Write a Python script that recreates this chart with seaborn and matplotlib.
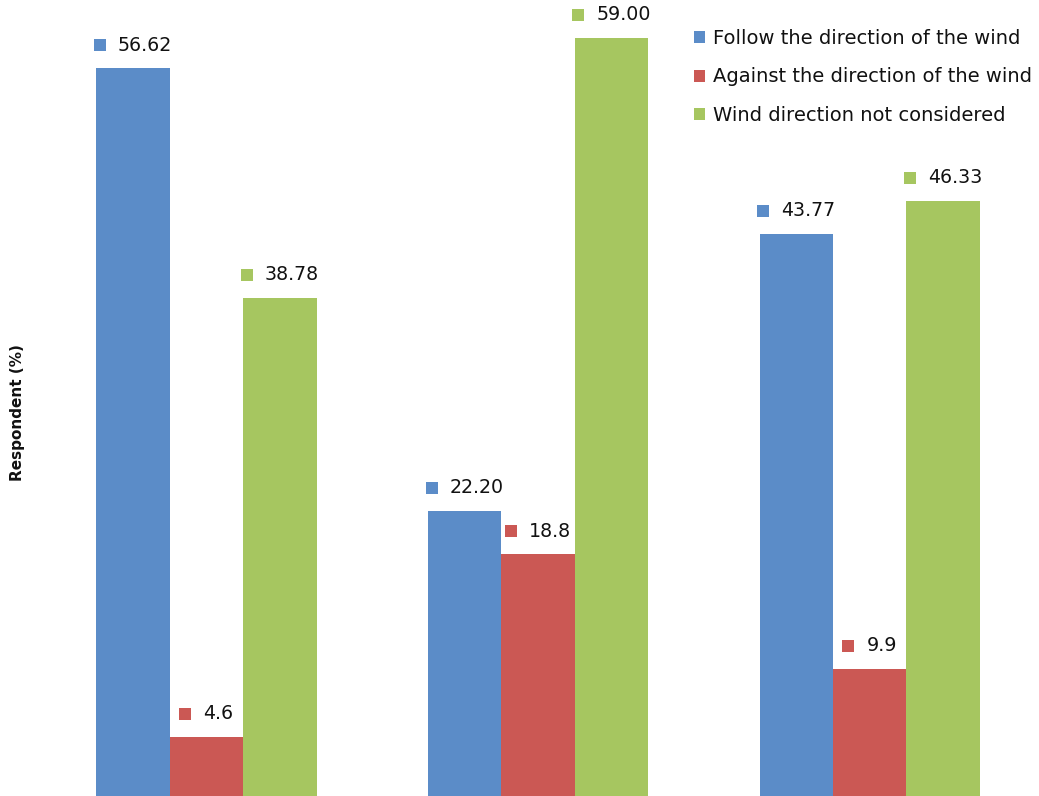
import matplotlib
matplotlib.use("Agg")
import matplotlib.pyplot as plt
import seaborn as sns
import pandas as pd
from matplotlib.patches import Rectangle, Patch
from matplotlib.offsetbox import HPacker, DrawingArea, TextArea, AnnotationBbox

groups = ["Group 1", "Group 2", "Group 3"]
series = ["Follow the direction of the wind",
          "Against the direction of the wind",
          "Wind direction not considered"]
follow = [56.62, 22.20, 43.77]
against = [4.6, 18.8, 9.9]
not_considered = [38.78, 59.00, 46.33]
follow_labels = ["56.62", "22.20", "43.77"]
against_labels = ["4.6", "18.8", "9.9"]
not_labels = ["38.78", "59.00", "46.33"]
colors = ["#5B8CC8", "#CB5854", "#A6C660"]

sns.set_theme(style="white")
plt.rcParams["font.family"] = ["DejaVu Sans"]

df = pd.DataFrame({
    "group": groups * 3,
    "series": [series[0]] * 3 + [series[1]] * 3 + [series[2]] * 3,
    "value": follow + against + not_considered,
})

W, H = 1039, 796
fig = plt.figure(figsize=(W / 100, H / 100), dpi=100)
ax = fig.add_axes([60 / W, 0, 1 - 60 / W, 1])
sns.barplot(data=df, x="group", y="value", hue="series", hue_order=series,
            palette=colors, width=0.664, dodge=True, ax=ax, legend=False,
            saturation=1, gap=0, linewidth=0, errorbar=None)

ax.set_xlim(-0.442, 2.511)
ax.set_ylim(0, 61.95)
for s in ax.spines.values():
    s.set_visible(False)
ax.set_xticks([])
ax.set_yticks([])
ax.set_xlabel("")
ax.set_ylabel("Respondent (%)", fontsize=11, fontweight="bold", color="#111111")
ax.yaxis.set_label_coords(-35 / 979, (796 - 413) / 796)

px = 72 / 100
for cont, labs, col in zip(ax.containers, [follow_labels, against_labels, not_labels], colors):
    for bar, lab in zip(cont, labs):
        x = bar.get_x() + bar.get_width() / 2
        y = bar.get_height()
        da = DrawingArea(12 * px, 12 * px, 0, 0)
        da.add_artist(Rectangle((0, 0), 12 * px, 12 * px, fc=col, ec="none"))
        ta = TextArea(lab, textprops=dict(fontsize=13.7, color="#111111"))
        pack = HPacker(children=[da, ta], sep=12 * px, pad=0, align="center")
        ab = AnnotationBbox(pack, (x, y), xybox=(0, 23 * px), xycoords="data",
                            boxcoords="offset points", box_alignment=(0.5, 0.5),
                            frameon=False, pad=0)
        ax.add_artist(ab)

handles = [Patch(fc=c, ec="none") for c in colors]
fig.legend(handles, series, loc="upper left",
           bbox_to_anchor=(694 / W, 1 - 29 / H), bbox_transform=fig.transFigure,
           frameon=False, fontsize=14, borderpad=0, borderaxespad=0,
           handlelength=0.57, handleheight=0.57, handletextpad=0.4,
           labelspacing=1.0, labelcolor="#111111")

fig.savefig("out.png", dpi=100)
